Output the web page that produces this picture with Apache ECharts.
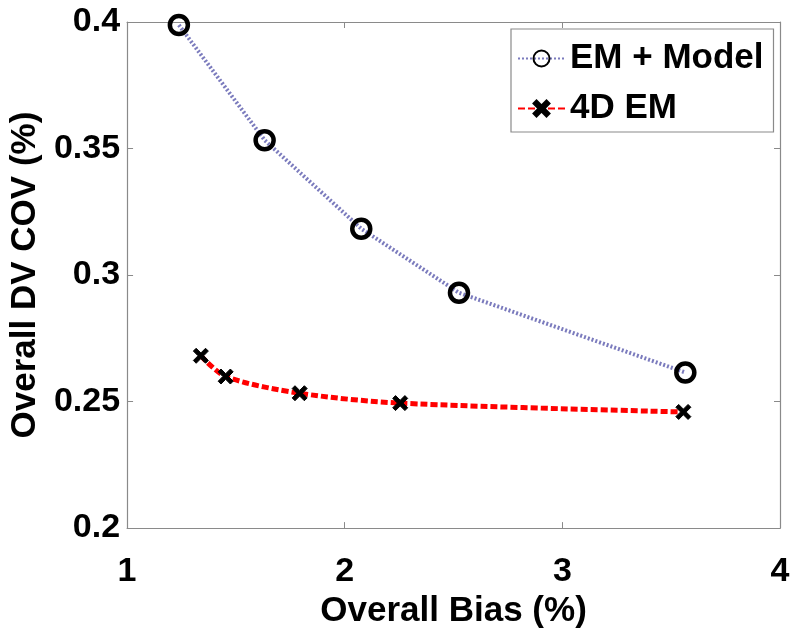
<!DOCTYPE html>
<html>
<head>
<meta charset="utf-8">
<script src="https://cdn.jsdelivr.net/npm/echarts@6/dist/echarts.min.js"></script>
<style>
html,body{margin:0;padding:0;background:#fff;}
#chart{width:800px;height:634px;}
</style>
</head>
<body>
<div id="chart"></div>
<script>
// Data
const seriesNames = ['EM + Model', '4D EM'];
const emModelX = [1.238, 1.632, 2.076, 2.525, 3.565];
const emModelY = [0.3988, 0.3533, 0.3183, 0.2930, 0.2615];
const em4dX = [1.339, 1.453, 1.793, 2.255, 3.556];
const em4dY = [0.2681, 0.2599, 0.2533, 0.2494, 0.2459];
const xTicks = [1, 2, 3, 4];
const yTicks = [0.2, 0.25, 0.3, 0.35, 0.4];
const xTitle = 'Overall Bias (%)';
const yTitle = 'Overall DV COV (%)';

const FONT = '"Liberation Sans", Arial, sans-serif';
const AXIS_COLOR = '#8a8a8a';
const crossPath = 'path://M0,3 L3,0 L8,5 L13,0 L16,3 L11,8 L16,13 L13,16 L8,11 L3,16 L0,13 L5,8 Z';

function zip(xs, ys) { return xs.map((x, i) => [x, ys[i]]); }

const baseAxisLine = { show: true, lineStyle: { color: AXIS_COLOR, width: 1.2 } };
const baseTick = { show: true, inside: true, length: 6, lineStyle: { color: AXIS_COLOR, width: 1 } };

const chart = echarts.init(document.getElementById('chart'), null, { renderer: 'canvas' });
chart.setOption({
  backgroundColor: '#fff',
  animation: false,
  grid: { left: 125, right: 20, top: 22, bottom: 98, containLabel: false },
  xAxis: [
    {
      type: 'value', min: xTicks[0], max: xTicks[xTicks.length - 1], interval: 1,
      position: 'bottom',
      name: xTitle, nameLocation: 'middle', nameGap: 52,
      nameTextStyle: { fontFamily: FONT, fontWeight: 'bold', fontSize: 35, color: '#000' },
      axisLine: baseAxisLine, axisTick: baseTick,
      axisLabel: { fontFamily: FONT, fontWeight: 'bold', fontSize: 34, color: '#000', margin: 27 },
      splitLine: { show: false }
    },
    {
      type: 'value', min: xTicks[0], max: xTicks[xTicks.length - 1], interval: 1,
      position: 'top',
      axisLine: baseAxisLine, axisTick: baseTick,
      axisLabel: { show: false }, splitLine: { show: false }
    }
  ],
  yAxis: [
    {
      type: 'value', min: yTicks[0], max: yTicks[yTicks.length - 1], interval: 0.05,
      position: 'left',
      name: yTitle, nameLocation: 'middle', nameGap: 84, nameRotate: 90,
      nameTextStyle: { fontFamily: FONT, fontWeight: 'bold', fontSize: 35, color: '#000' },
      axisLine: baseAxisLine, axisTick: baseTick,
      axisLabel: { fontFamily: FONT, fontWeight: 'bold', fontSize: 34, color: '#000', margin: 7 },
      splitLine: { show: false }
    },
    {
      type: 'value', min: yTicks[0], max: yTicks[yTicks.length - 1], interval: 0.05,
      position: 'right',
      axisLine: baseAxisLine, axisTick: baseTick,
      axisLabel: { show: false }, splitLine: { show: false }
    }
  ],
  legend: {
    orient: 'vertical',
    left: 511, top: 29,
    padding: [12, 10, 6, 6],
    itemWidth: 47, itemHeight: 20, itemGap: 15,
    backgroundColor: '#fff',
    borderColor: AXIS_COLOR, borderWidth: 1.2, borderRadius: 0,
    textStyle: { fontFamily: FONT, fontWeight: 'bold', fontSize: 35, color: '#000', padding: [0, 0, 0, 0] },
    data: seriesNames
  },
  series: [
    {
      name: seriesNames[0], type: 'line',
      xAxisIndex: 0, yAxisIndex: 0,
      data: zip(emModelX, emModelY),
      symbol: 'circle', symbolSize: 18,
      itemStyle: { color: 'rgba(255,255,255,0)', borderColor: '#000', borderWidth: 4.5 },
      lineStyle: { color: '#7b7bbd', width: 4, type: [2, 2], cap: 'butt' },
      z: 3
    },
    {
      name: seriesNames[1], type: 'line',
      xAxisIndex: 0, yAxisIndex: 0,
      data: zip(em4dX, em4dY),
      smooth: 0.3,
      symbol: crossPath, symbolSize: 15,
      itemStyle: { color: '#000', borderColor: '#000', borderWidth: 1 },
      lineStyle: { color: '#ff0000', width: 5, type: [7, 3], cap: 'butt' },
      z: 2
    }
  ]
});
</script>
</body>
</html>
